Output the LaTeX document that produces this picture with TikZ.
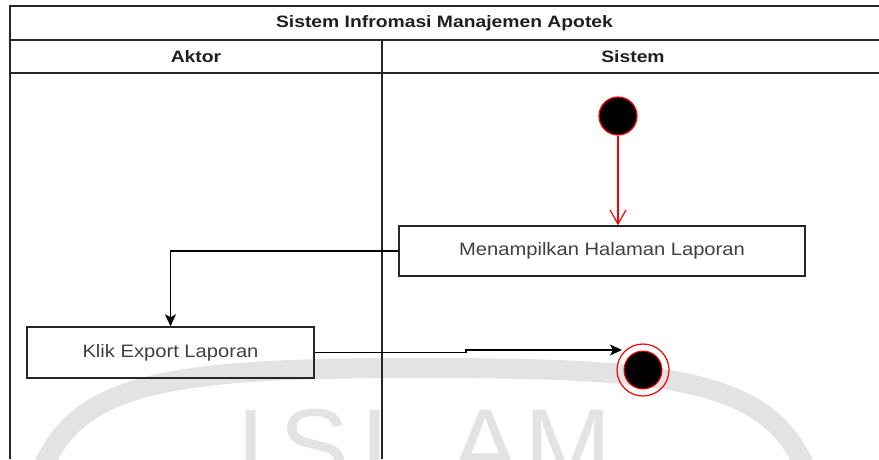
\documentclass[tikz,border=0pt]{standalone}
\usepackage{fontspec}
\setmainfont{Liberation Sans}
\usetikzlibrary{arrows.meta}
\newcommand{\hdtxt}[1]{\scalebox{1.17}[1]{\bfseries #1}}
\newcommand{\bxtxt}[1]{\scalebox{1.12}[1]{#1}}
\tikzset{
  laneline/.style={draw=black!85, line width=1.2pt},
  headtext/.style={font=\fontsize{16.5}{20}\selectfont, text=black!88, inner sep=0pt},
  actbox/.style={draw=black!85, line width=1.5pt, inner sep=0pt,
    font=\fontsize{18}{22}\selectfont, text=black!75},
  flow/.style={draw=black, line width=1.4pt, -{Stealth[length=12pt,width=11pt,inset=3pt]}},
  startflow/.style={draw=red, line width=1.2pt, -{Straight Barb[length=14pt,width=16pt]}},
  initnode/.style={circle, fill=black, draw=red, line width=1.2pt, minimum size=38pt, inner sep=0pt},
  finalring/.style={circle, draw=red, line width=1.2pt, minimum size=52pt, inner sep=0pt},
  finalcore/.style={circle, fill=black, draw=red, line width=1pt, minimum size=38pt, inner sep=0pt},
  wmark/.style={draw=black!11, line width=20pt}
}
\begin{document}
\begin{tikzpicture}[x=1pt,y=-1pt]
\useasboundingbox (0,0) rectangle (879,459);
% watermark
\begin{scope}
  \clip (0,0) rectangle (879,459);
  \draw[wmark] (40,475) .. controls (75,380) and (172,368) .. (424,368)
                        .. controls (676,368) and (773,380) .. (808,475);
  \node[anchor=base, text=black!11, inner sep=0pt, font=\fontsize{105}{110}\selectfont]
     (wm) at (424,482) {I\hspace{14pt}S\hspace{12pt}L\hspace{30pt}A\hspace{4pt}M};
\end{scope}
% swimlane frame
\draw[laneline] (10,459) -- (10,6) -- (879,6);
\draw[laneline] (10,40) -- (879,40);
\draw[laneline] (10,73) -- (879,73);
\draw[laneline] (382,40) -- (382,459);
\node[headtext] (title) at (444.5,23) {\hdtxt{Sistem Infromasi Manajemen Apotek}};
\node[headtext] (aktor) at (196,57) {\hdtxt{Aktor}};
\node[headtext] (sistem) at (633,57) {\hdtxt{Sistem}};
% nodes
\node[initnode] (start) at (618,116) {};
\node[actbox, minimum width=406pt, minimum height=50pt] (tampil) at (602,251) {\bxtxt{Menampilkan Halaman Laporan}};
\node[actbox, minimum width=287pt, minimum height=51pt] (klik) at (170.5,352.5) {\bxtxt{Klik Export Laporan}};
\node[finalring] (end) at (643,370) {};
\node[finalcore] (endcore) at (643,370) {};
\coordinate (tip) at (622,350);
% connectors
\draw[startflow] (start) -- (tampil.north -| start);
\draw[flow] (tampil.west) -| (klik.north);
\draw[flow] (klik.east) -- (466,352.5) -- (466,350) -- (tip);
\end{tikzpicture}
\end{document}
